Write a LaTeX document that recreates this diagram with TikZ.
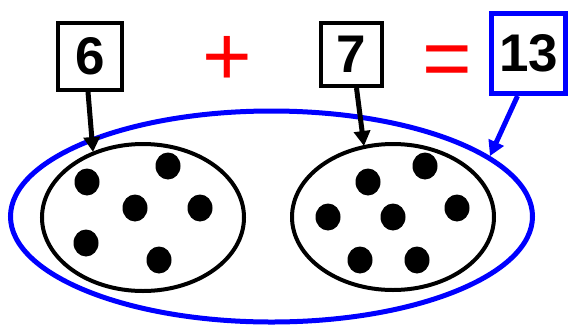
\documentclass[tikz,border=0pt]{standalone}
\usepackage{fontspec}
\setmainfont{Liberation Sans}
\usetikzlibrary{shapes.geometric,arrows.meta}
\begin{document}
\begin{tikzpicture}[x=1pt,y=-1pt,
  numbox/.style={draw, line width=4pt, inner sep=0pt, font=\fontsize{53}{53}\selectfont\bfseries},
  setshape/.style={ellipse, draw, line width=4pt, inner sep=0pt},
  dot/.style={ellipse, fill=black, minimum width=25pt, minimum height=27pt, inner sep=0pt},
  arr/.style={line width=5pt, -{Triangle[length=15pt,width=16pt]}},
  op/.style={text=red, inner sep=0pt, font=\fontsize{85}{85}\selectfont}]
\useasboundingbox (0,0) rectangle (570,325);
% big blue set
\node[ellipse, draw=blue, line width=5pt, inner sep=0pt, minimum width=522pt, minimum height=211pt] (all) at (271.5,216.5) {};
% two sets
\node[setshape, minimum width=202pt, minimum height=147pt] (left) at (143,217.5) {};
\node[setshape, minimum width=202pt, minimum height=146pt] (right) at (393,217) {};
% dots left
\node[dot] (l1) at (87,182) {};
\node[dot] (l2) at (168,166) {};
\node[dot] (l3) at (135,208) {};
\node[dot] (l4) at (200,208) {};
\node[dot] (l5) at (86,243) {};
\node[dot] (l6) at (159,260) {};
% dots right
\node[dot] (r1) at (368,182) {};
\node[dot] (r2) at (425,166) {};
\node[dot] (r3) at (328,217) {};
\node[dot] (r4) at (393,217) {};
\node[dot] (r5) at (457,208) {};
\node[dot] (r6) at (360,260) {};
\node[dot] (r7) at (417,260) {};
% number boxes
\node[numbox, minimum width=64pt, minimum height=67pt] (b6) at (90,56.5) {\raisebox{-3pt}{6}};
\node[numbox, minimum width=61pt, minimum height=63pt] (b7) at (351.5,54.5) {\raisebox{-2pt}{7}};
\node[numbox, draw=blue, line width=5pt, minimum width=74pt, minimum height=80pt] (b13) at (528.5,53.5) {\raisebox{-2pt}{13}};
% operators
\node[op] (plus) at (227,61) {+};
\node[op] (eq) at (447,67) {=};
% arrows
\coordinate (t6) at (93,152);
\coordinate (t7) at (364,146);
\coordinate (t13) at (490,156);
\draw[arr] ([xshift=-2pt]b6.south) -- (t6);
\draw[arr] ([xshift=5pt]b7.south) -- (t7);
\draw[arr, draw=blue, fill=blue] ([xshift=-11pt]b13.south) -- (t13);
\end{tikzpicture}
\end{document}
